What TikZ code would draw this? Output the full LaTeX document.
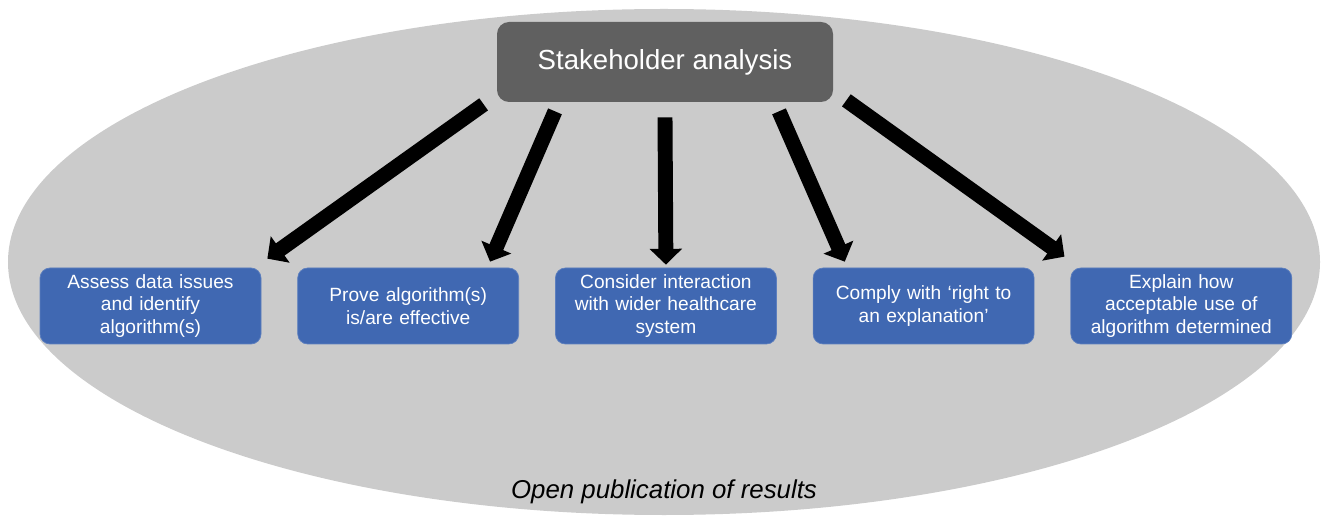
\documentclass[tikz,border=0pt]{standalone}
\usepackage{fontspec}
\setmainfont{Liberation Sans}
\usepackage{tikz}
\usetikzlibrary{positioning, arrows.meta}

\definecolor{ovalgray}{RGB}{203,203,203}
\definecolor{headgray}{RGB}{96,96,96}
\definecolor{boxblue}{RGB}{64,104,178}

\begin{document}
\begin{tikzpicture}[
    node distance=0.72cm,
    head/.style={rectangle, fill=headgray, rounded corners=0.24cm, minimum width=6.72cm, minimum height=1.6cm, text=white, font=\fontsize{15.7}{18}\selectfont},
    block/.style={rectangle, fill=boxblue, draw=boxblue!85!white, rounded corners=0.2cm, minimum width=4.42cm, minimum height=1.52cm, text width=4.0cm, align=center, text=white, font=\fontsize{10.9}{13}\selectfont},
    arrow/.style={line width=8.5pt, -{Triangle[length=9pt, width=18pt]}}
]
\useasboundingbox (0,0) rectangle (26.56,10.36);

% Background oval
\fill[ovalgray] (13.28,5.12) ellipse [x radius=13.12cm, y radius=5.06cm];

% Top node
\node[head] (stake) at (13.30,9.12) {Stakeholder analysis};

% Nodes disposés horizontalement
\node[block] (assess) at (3.01,4.24) {Assess data issues\\ and identify\\ algorithm(s)};
\node[block, right=of assess] (prove) {Prove algorithm(s)\\ is/are effective};
\node[block, right=of prove] (consider) {Consider interaction\\ with wider healthcare\\ system};
\node[block, right=of consider] (comply) {Comply with `right to\\ an explanation'};
\node[block, right=of comply] (explain) {Explain how\\ acceptable use of\\ algorithm determined};

% Bottom label
\node[font=\fontsize{14.7}{17}\selectfont\itshape] (open) at (13.28,0.52) {Open publication of results};

% Arrows
\draw[arrow] ([shift={(-0.26,-0.04)}]stake.south west) -- ([shift={(0.12,0.18)}]assess.north east);
\draw[arrow] ([shift={(-2.2,-0.18)}]stake.south) -- ([shift={(-0.58,0.12)}]prove.north east);
\draw[arrow] ([shift={(0,-0.30)}]stake.south) -- ([shift={(0,0.06)}]consider.north);
\draw[arrow] ([shift={(2.28,-0.18)}]stake.south) -- ([shift={(0.64,0.12)}]comply.north west);
\draw[arrow] ([shift={(0.26,0.04)}]stake.south east) -- ([shift={(-0.12,0.22)}]explain.north west);

\end{tikzpicture}
\end{document}
